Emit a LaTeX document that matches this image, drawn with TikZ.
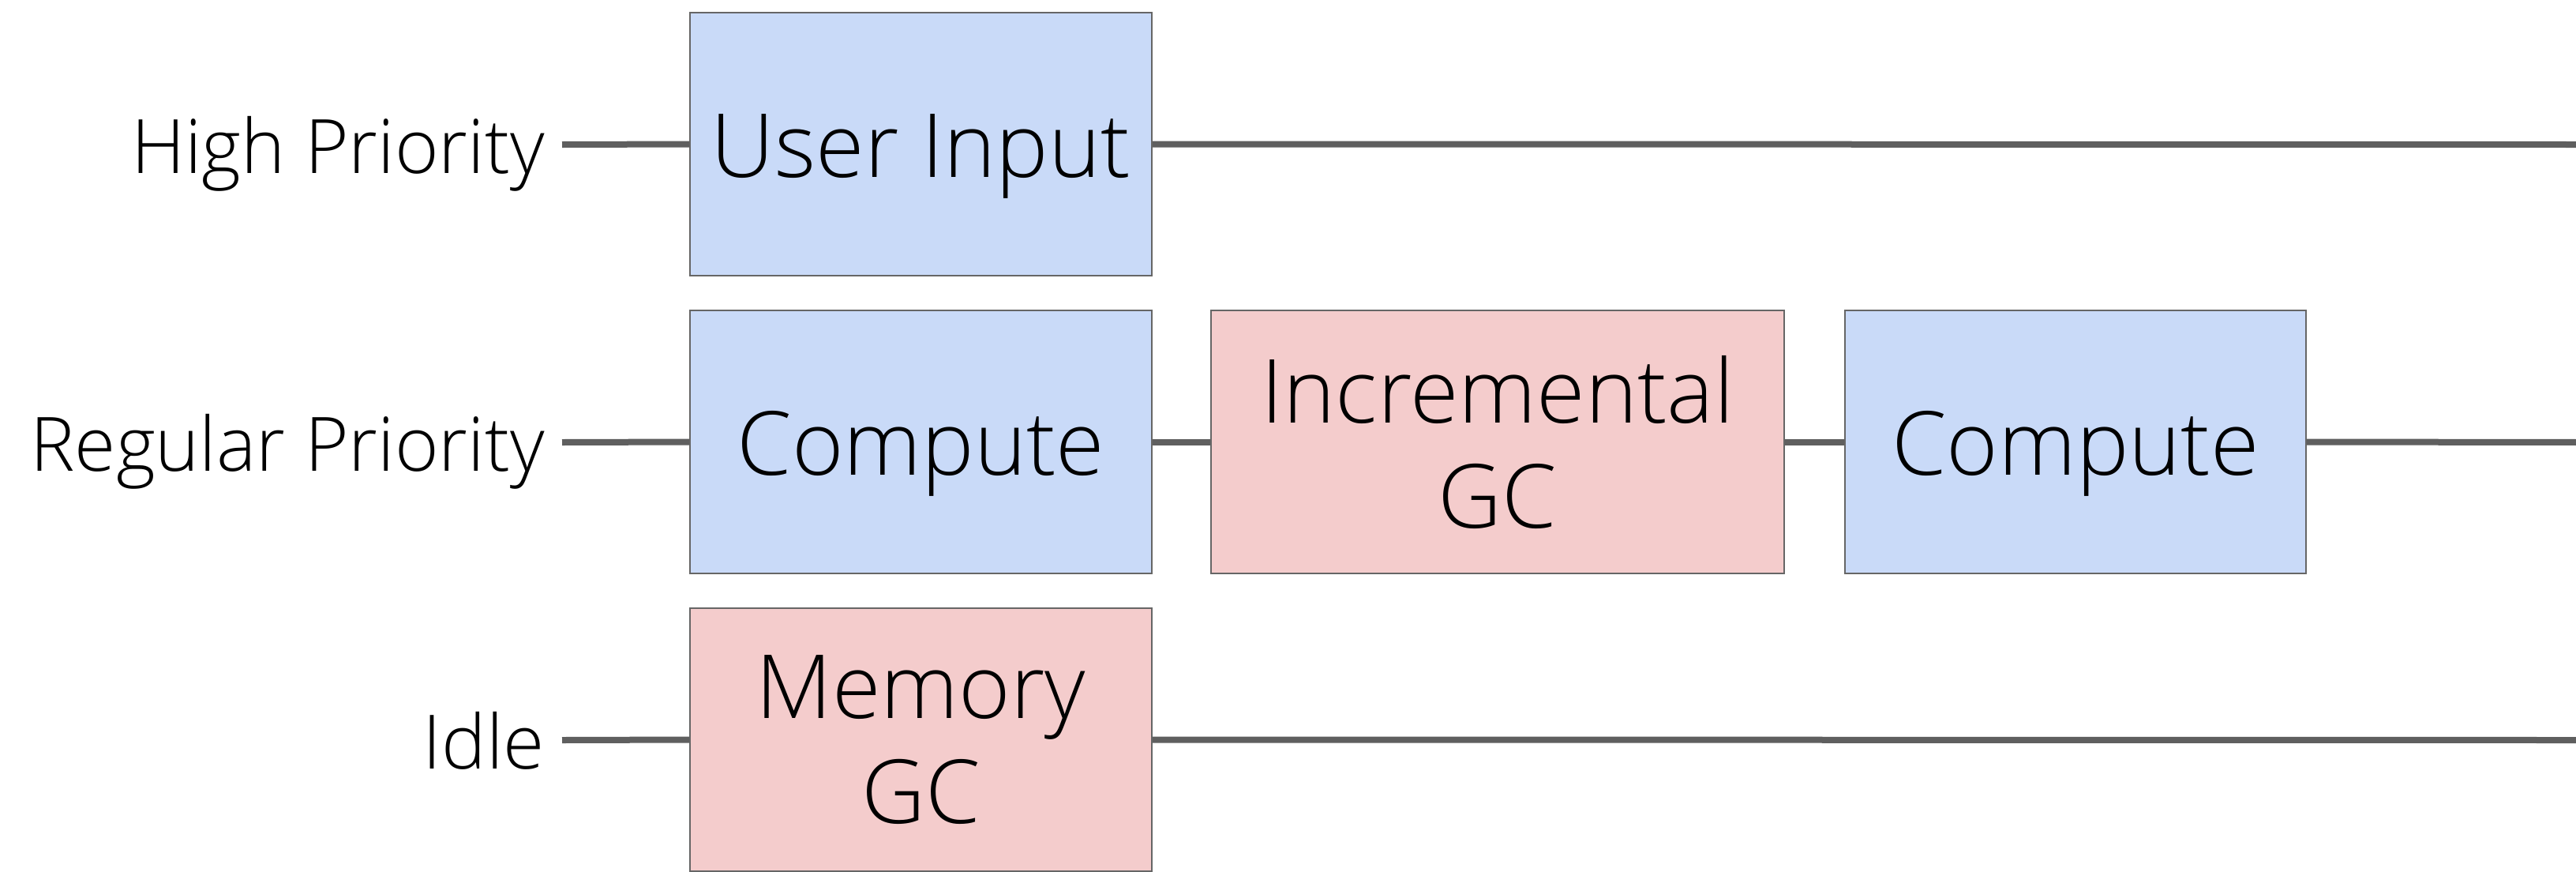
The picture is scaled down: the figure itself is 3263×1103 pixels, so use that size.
\documentclass[tikz,border=0pt]{standalone}
\usepackage{fontspec}
\setmainfont{Open Sans Light}
\definecolor{lanecol}{HTML}{5F5F5F}
\definecolor{bordercol}{HTML}{666666}
\definecolor{bluefill}{HTML}{C9DAF8}
\definecolor{pinkfill}{HTML}{F4CCCC}
\tikzset{
  lane/.style={draw=lanecol, line width=8bp},
  taskbox/.style={draw=bordercol, line width=2bp, rectangle, inner sep=0pt,
    minimum height=333bp, align=center, font=\fontsize{112bp}{133bp}\selectfont},
  onebox/.style={taskbox, text height=84bp, text depth=0bp},
  bluebox/.style={fill=bluefill},
  pinkbox/.style={fill=pinkfill},
  lanelabel/.style={anchor=base east, inner sep=0pt, font=\fontsize{95bp}{114bp}\selectfont}
}
\begin{document}
\begin{tikzpicture}[x=1bp,y=-1bp]
\useasboundingbox (0,0) rectangle (3263,1103);
% lane labels
\node[lanelabel] (lhigh) at (690,219) {High Priority};
\node[lanelabel] (lreg) at (690,596) {Regular Priority};
\node[lanelabel] (lidle) at (690,973) {Idle};
% line start/end points
\coordinate (s1) at (712,183);
\coordinate (s2) at (712,560);
\coordinate (s3) at (712,937);
\coordinate (e1) at (3270,183);
\coordinate (e2) at (3270,560);
\coordinate (e3) at (3270,937);
% boxes
\node[onebox, bluebox, minimum width=585bp] (user) at (1166.5,182.5) {User Input};
\node[onebox, bluebox, minimum width=585bp] (comp1) at (1166.5,559.5) {Compute};
\node[taskbox, pinkbox, minimum width=726bp] (incgc) at (1897,559.5) {Incremental\\GC};
\node[onebox, bluebox, minimum width=584bp] (comp2) at (2629,559.5) {Compute};
\node[taskbox, pinkbox, minimum width=585bp] (memgc) at (1166.5,936.5) {Memory\\GC};
% lanes
\draw[lane] (s1) -- (user.west);
\draw[lane] (user.east) -- (e1);
\draw[lane] (s2) -- (comp1.west);
\draw[lane] (comp1.east) -- (incgc.west);
\draw[lane] (incgc.east) -- (comp2.west);
\draw[lane] (comp2.east) -- (e2);
\draw[lane] (s3) -- (memgc.west);
\draw[lane] (memgc.east) -- (e3);
\end{tikzpicture}
\end{document}
